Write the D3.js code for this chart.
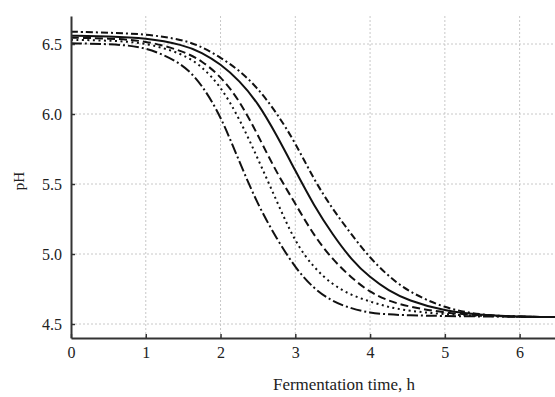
<!DOCTYPE html>
<html>
<head>
<meta charset="utf-8">
<script src="https://cdn.jsdelivr.net/npm/d3@7"></script>
<style>
  body { margin: 0; background: #fff; }
  .chart text { font-family: "Liberation Serif", "Times New Roman", serif; fill: #222; }
</style>
</head>
<body>
<div class="chart"></div>
<script>
// fermentation time, h
const hours = [0, 0.5, 1, 1.5, 1.75, 2, 2.25, 2.5, 2.75, 3, 3.25, 3.5, 3.75, 4, 4.25, 4.5, 5, 5.5, 6, 6.5]

// pH, one array per curve (top to bottom at t = 0)
const phDashDot = [6.588, 6.581, 6.571, 6.531, 6.48, 6.404, 6.313, 6.184, 6.009, 5.795, 5.53, 5.32, 5.14, 4.97, 4.84, 4.735, 4.61, 4.563, 4.552, 4.549]
const phSolid   = [6.559, 6.554, 6.543, 6.495, 6.44, 6.357, 6.24, 6.08, 5.85, 5.595, 5.345, 5.138, 4.959, 4.831, 4.738, 4.67, 4.591, 4.563, 4.552, 4.549]
const phDashed  = [6.545, 6.54, 6.525, 6.45, 6.38, 6.27, 6.10, 5.85, 5.58, 5.36, 5.13, 4.96, 4.83, 4.725, 4.665, 4.625, 4.579, 4.56, 4.552, 4.549]
const phDotted  = [6.53, 6.525, 6.51, 6.43, 6.34, 6.20, 5.97, 5.68, 5.38, 5.08, 4.90, 4.78, 4.705, 4.66, 4.62, 4.595, 4.568, 4.557, 4.552, 4.549]
const phLongDD  = [6.505, 6.50, 6.483, 6.36, 6.21, 5.99, 5.66, 5.35, 5.11, 4.90, 4.75, 4.66, 4.61, 4.579, 4.568, 4.562, 4.557, 4.554, 4.552, 4.549]

const xTicks = [0, 1, 2, 3, 4, 5, 6]
const yTicks = [4.5, 5.0, 5.5, 6.0, 6.5]

const series = [
  {values: phDashDot, dash: "7,3,2,3"},
  {values: phSolid, dash: null},
  {values: phDashed, dash: "8,4"},
  {values: phDotted, dash: "2,3.5"},
  {values: phLongDD, dash: "11,3,2,3"}
]

const W = 555, H = 397
const margin = {top: 16, left: 71}
const plotBottom = 338
const plotRight = 557

const svg = d3.select(".chart").append("svg")
    .attr("width", W)
    .attr("height", H)

const x = d3.scaleLinear()
    .domain([0, 6.5])
    .range([margin.left, plotRight])

const y = d3.scaleLinear()
    .domain([4.4, 6.7])
    .range([plotBottom, margin.top])

// grid
svg.append("g")
    .selectAll("line")
    .data(xTicks.filter(d => d > 0))
    .join("line")
        .attr("x1", d => x(d)).attr("x2", d => x(d))
        .attr("y1", margin.top).attr("y2", plotBottom)
        .attr("stroke", "#c8c8c8")
        .attr("stroke-dasharray", "2,2")

svg.append("g")
    .selectAll("line")
    .data(yTicks)
    .join("line")
        .attr("x1", margin.left).attr("x2", W)
        .attr("y1", d => y(d)).attr("y2", d => y(d))
        .attr("stroke", "#c8c8c8")
        .attr("stroke-dasharray", "2,2")

// curves
const line = d3.line()
    .curve(d3.curveBasis)
    .x((d, i) => x(hours[i]))
    .y(d => y(d))

svg.append("g")
    .selectAll("path")
    .data(series)
    .join("path")
        .attr("d", d => line(d.values))
        .attr("fill", "none")
        .attr("stroke", "#111")
        .attr("stroke-width", 2)
        .attr("stroke-dasharray", d => d.dash)

// axes
const xAxis = d3.axisBottom(x)
    .tickValues(xTicks)
    .tickFormat(d3.format("d"))
    .tickSizeInner(-4)
    .tickSizeOuter(0)
    .tickPadding(9)

const yAxis = d3.axisLeft(y)
    .tickValues(yTicks)
    .tickFormat(d3.format(".1f"))
    .tickSizeInner(-4)
    .tickSizeOuter(0)
    .tickPadding(9)

const xGroup = svg.append("g")
    .attr("transform", `translate(0,${plotBottom})`)
    .call(xAxis)

const yGroup = svg.append("g")
    .attr("transform", `translate(${margin.left},0)`)
    .call(yAxis)

for (const g of [xGroup, yGroup]) {
  g.attr("font-size", null).attr("font-family", null)
  g.select(".domain").attr("stroke", "#333").attr("stroke-width", 2)
  g.selectAll(".tick line").attr("stroke", "#333").attr("stroke-width", 1.5)
  g.selectAll(".tick text").style("font-size", "16px")
}

// labels
svg.append("text")
    .attr("x", 344)
    .attr("y", 390)
    .attr("text-anchor", "middle")
    .style("font-size", "17px")
    .text("Fermentation time, h")

svg.append("text")
    .attr("transform", `translate(24,${(margin.top + plotBottom) / 2 + 4}) rotate(-90)`)
    .attr("text-anchor", "middle")
    .style("font-size", "15px")
    .text("pH")
</script>
</body>
</html>
